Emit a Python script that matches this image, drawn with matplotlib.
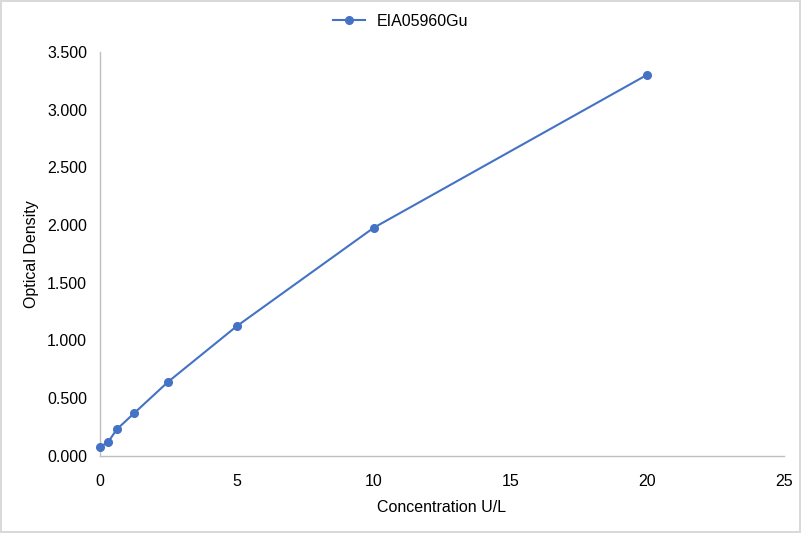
import matplotlib
matplotlib.use('Agg')
import matplotlib.pyplot as plt
from matplotlib.ticker import FuncFormatter

concentration = [0, 0.3125, 0.625, 1.25, 2.5, 5, 10, 20]
density = [0.073, 0.121, 0.229, 0.367, 0.641, 1.122, 1.975, 3.303]
x_ticks = [0, 5, 10, 15, 20, 25]
y_ticks = [0, 0.5, 1.0, 1.5, 2.0, 2.5, 3.0, 3.5]

plt.rcParams['font.family'] = ['Liberation Sans', 'DejaVu Sans']

fig = plt.figure(figsize=(8.01, 5.33), dpi=100)
fig.patch.set_edgecolor('#D9D9D9')
fig.patch.set_linewidth(1.5)
ax = fig.add_axes([0.1245, 0.145, 0.8545, 0.7575])

ax.plot(concentration, density, '-o', color='#4472C4', lw=1.5, ms=5.5,
        label='EIA05960Gu', clip_on=False, zorder=3)

ax.set_xlim(0, 25)
ax.set_ylim(0, 3.5)
ax.set_xticks(x_ticks)
ax.set_yticks(y_ticks)
ax.yaxis.set_major_formatter(FuncFormatter(lambda y, _: '{:.3f}'.format(y)))
ax.tick_params(axis='x', length=0, labelsize=11.5, labelcolor='black', pad=13)
ax.tick_params(axis='y', length=0, labelsize=11.5, labelcolor='black', pad=9)

for s in ['top', 'right']:
    ax.spines[s].set_visible(False)
for s in ['left', 'bottom']:
    ax.spines[s].set_color('#BFBFBF')
    ax.spines[s].set_linewidth(1)

ax.set_xlabel('Concentration U/L', fontsize=11.5, color='black', labelpad=8)
ax.set_ylabel('Optical Density', fontsize=11.5, color='black', labelpad=6)

h, l = ax.get_legend_handles_labels()
fig.legend(h, l, loc='center', bbox_to_anchor=(0.5, 1 - 21 / 533), frameon=False,
           fontsize=11.5, handlelength=2.0, handletextpad=0.7)

fig.savefig('out.png', dpi=100, edgecolor=fig.get_edgecolor())
